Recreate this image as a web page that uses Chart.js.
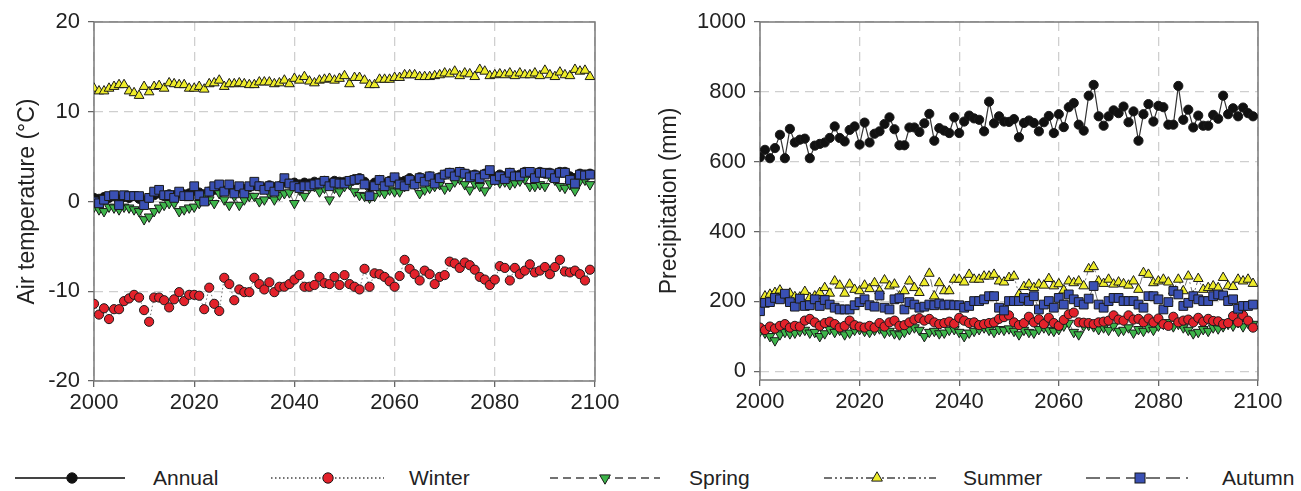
<!DOCTYPE html>
<html>
<head>
<meta charset="utf-8">
<script src="https://cdn.jsdelivr.net/npm/chart.js@4.4.1/dist/chart.umd.min.js"></script>
<style>
  html, body { margin: 0; padding: 0; background: #fff; }
  body { width: 1301px; height: 491px; position: relative; overflow: hidden; font-family: 'Liberation Sans', Arial, sans-serif; }
  .box { position: absolute; top: 0; height: 430px; }
  #legend { position: absolute; left: 0; top: 460px; }
</style>
</head>
<body>
<div class="box" style="left:0;width:630px"><canvas id="temp"></canvas></div>
<div class="box" style="left:640px;width:660px"><canvas id="precip"></canvas></div>
<svg id="legend" width="1301" height="36" xmlns="http://www.w3.org/2000/svg"></svg>
<script>
// years 2000..2099, one point per year
const years = Array.from({ length: 100 }, (_, i) => 2000 + i);
const xTicks = [2000, 2020, 2040, 2060, 2080, 2100];
const tempTicks = [-20, -10, 0, 10, 20];
const precipTicks = [0, 200, 400, 600, 800, 1000];

// Air temperature (°C)
const tempAnnual = [
  0.4, 0.3, 0.5, 0.4, 0.6, 0.2, 0.5, 0.4, 0.6, 0.3,
  0.1, 0.4, 0.7, 0.9, 0.6, 0.8, 0.7, 0.9, 0.8, 0.9,
  1.2, 1.0, 0.8, 1.1, 1.3, 1.4, 1.2, 1.5, 1.3, 1.5,
  1.4, 1.6, 1.8, 1.7, 1.5, 1.8, 1.6, 1.7, 2.2, 2.0,
  2.1, 1.9, 2.1, 2.0, 2.2, 2.1, 2.3, 2.0, 2.3, 2.2,
  2.2, 2.3, 2.5, 2.6, 2.2, 1.6, 2.1, 2.4, 2.0, 2.3,
  2.6, 2.2, 2.3, 2.6, 2.3, 2.7, 2.5, 2.8, 2.5, 2.7,
  3.0, 3.2, 3.0, 3.3, 3.1, 2.9, 3.0, 2.8, 3.1, 3.3,
  2.7, 3.0, 2.8, 3.2, 2.9, 3.0, 3.3, 3.2, 2.8, 3.3,
  3.1, 3.2, 2.9, 3.3, 3.3, 2.8, 2.6, 3.1, 3.0, 3.1,
];
const tempWinter = [
  -11.4, -12.6, -11.9, -13.1, -12.0, -12.0, -11.1, -10.8, -10.4, -10.7,
  -12.1, -13.4, -10.7, -10.7, -11.0, -11.8, -10.9, -10.1, -11.1, -10.4,
  -10.4, -10.5, -12.0, -9.6, -11.4, -12.2, -8.5, -9.2, -11.0, -9.8,
  -10.1, -10.1, -8.5, -9.2, -9.8, -9.0, -10.1, -9.5, -9.5, -9.2,
  -8.7, -8.2, -9.5, -9.5, -9.3, -8.4, -9.1, -9.2, -8.4, -9.3,
  -8.2, -9.2, -9.5, -9.8, -7.5, -9.5, -8.0, -8.1, -8.4, -8.9,
  -9.5, -8.3, -6.5, -7.5, -8.1, -8.8, -7.7, -8.1, -9.2, -8.4,
  -8.2, -6.7, -6.9, -7.4, -6.8, -7.1, -7.6, -8.4, -8.7, -9.3,
  -8.7, -7.2, -7.4, -8.8, -7.4, -8.1, -7.7, -7.0, -7.9, -7.7,
  -7.3, -8.1, -7.3, -6.5, -7.8, -7.9, -7.7, -8.1, -8.8, -7.6,
];
const tempSpring = [
  -0.6, -0.9, -1.1, -0.6, -0.7, -0.9, -0.6, -0.7, -0.9, -1.1,
  -2.0, -1.7, -1.1, -0.7, -0.4, -0.2, -0.2, -1.1, -0.9, -0.7,
  -0.6, -0.2, 0.6, 0.2, -0.2, 0.9, 0.2, -0.4, 0.6, -0.4,
  0.2, 0.6, 0.6, 0.0, 0.2, 0.9, 0.2, 0.7, 0.9, 1.0,
  -0.2, 1.3, 0.6, 1.5, 1.7, 1.1, 1.5, 0.2, 1.5, 1.1,
  1.7, 1.9, 1.1, 0.7, 0.6, 0.4, 0.6, 1.1, 0.9, 1.3,
  1.1, 1.1, 1.7, 2.2, 1.9, 0.9, 1.3, 1.5, 1.7, 1.9,
  1.4, 1.7, 2.2, 2.5, 1.9, 1.3, 2.0, 1.7, 1.2, 2.0,
  2.4, 2.1, 2.2, 1.9, 2.1, 2.3, 2.5, 1.7, 1.7, 1.9,
  1.7, 2.8, 2.4, 1.7, 1.5, 1.9, 1.2, 2.3, 2.4, 1.9,
];
const tempSummer = [
  12.6, 12.3, 12.3, 12.6, 12.8, 13.0, 13.0, 12.3, 12.1, 11.8,
  12.8, 12.2, 12.8, 12.9, 12.6, 13.2, 13.1, 13.0, 13.0, 12.6,
  12.6, 12.8, 12.5, 13.1, 13.2, 13.5, 12.8, 13.1, 13.1, 13.2,
  13.1, 13.0, 13.0, 13.3, 13.3, 13.3, 13.1, 13.2, 13.5, 13.1,
  13.7, 13.5, 13.9, 13.4, 13.2, 13.5, 13.6, 13.7, 13.5, 13.7,
  14.0, 13.1, 13.8, 13.8, 13.5, 13.0, 13.0, 13.6, 13.6, 13.6,
  13.8, 13.8, 14.1, 14.1, 14.1, 13.9, 13.9, 13.9, 14.0, 14.1,
  14.3, 14.2, 14.5, 14.0, 14.3, 14.2, 13.9, 14.7, 14.5, 14.0,
  14.1, 14.2, 14.1, 14.3, 14.0, 14.3, 14.1, 14.1, 14.3, 14.0,
  14.6, 14.1, 13.9, 14.4, 14.1, 14.0, 14.7, 14.5, 14.6, 13.9,
];
const tempAutumn = [
  0.0, -0.2, 0.2, 0.6, 0.7, -0.4, 0.7, 0.6, 0.6, 0.6,
  -0.4, 0.4, 1.1, 1.3, 0.7, 0.7, 0.4, 1.1, 0.6, 0.6,
  1.7, 0.7, 0.0, 1.1, 1.7, 1.9, 1.1, 1.9, 0.9, 1.7,
  0.9, 1.7, 2.2, 1.7, 1.3, 1.7, 1.1, 1.7, 2.6, 2.0,
  1.7, 1.5, 1.7, 1.7, 1.9, 2.0, 2.3, 1.7, 2.1, 2.0,
  2.0, 2.3, 2.4, 2.5, 1.9, 0.6, 1.7, 2.4, 1.7, 2.2,
  2.7, 1.9, 1.7, 2.4, 1.9, 2.6, 2.2, 2.8, 2.0, 2.6,
  3.0, 3.2, 2.8, 3.3, 3.1, 2.7, 2.9, 2.6, 3.0, 3.5,
  2.4, 2.8, 2.5, 3.2, 2.8, 2.8, 3.2, 3.3, 2.6, 3.2,
  3.2, 3.1, 2.6, 3.2, 3.2, 2.4, 2.0, 3.0, 2.9, 3.0,
];

// Precipitation (mm)
const precipAnnual = [
  613, 634, 610, 639, 677, 610, 694, 655, 663, 666,
  610, 646, 651, 655, 668, 701, 668, 658, 691, 701,
  649, 712, 655, 680, 687, 708, 727, 693, 647, 647,
  698, 698, 685, 710, 737, 660, 696, 689, 682, 727,
  682, 715, 732, 724, 720, 687, 772, 710, 730, 715,
  714, 722, 670, 711, 718, 711, 687, 713, 731, 682,
  736, 699, 756, 768, 706, 689, 789, 820, 730, 703,
  730, 747, 739, 758, 713, 744, 660, 736, 765, 715,
  760, 756, 706, 706, 817, 720, 749, 698, 732, 703,
  703, 734, 723, 789, 736, 753, 730, 755, 739, 730,
];
const precipWinter = [
  125, 118, 128, 122, 130, 135, 125, 130, 128, 145,
  150, 140, 130, 138, 142, 135, 125, 130, 145, 132,
  128, 125, 130, 125, 138, 128, 140, 145, 130, 132,
  140, 148, 152, 145, 150, 140, 135, 138, 142, 136,
  153, 145, 138, 140, 132, 135, 138, 140, 150, 155,
  160, 140, 132, 138, 156, 140, 149, 135, 153, 138,
  130, 147, 163, 168, 140, 139, 138, 135, 140, 142,
  145, 160, 148, 145, 160, 148, 150, 140, 151, 140,
  151, 135, 130, 156, 140, 145, 148, 140, 153, 142,
  150, 144, 143, 135, 138, 158, 140, 160, 145, 125,
];
const precipSpring = [
  115, 110, 100, 88, 105, 112, 108, 110, 115, 118,
  110, 112, 100, 108, 120, 112, 118, 105, 110, 118,
  120, 115, 112, 118, 122, 110, 115, 108, 105, 112,
  120, 125, 118, 100, 112, 115, 108, 110, 118, 120,
  112, 100, 110, 115, 120, 125, 118, 112, 120, 118,
  122, 115, 105, 118, 112, 110, 120, 125, 118, 115,
  120, 130, 138, 112, 105, 130, 132, 128, 120, 125,
  118, 130, 115, 118, 125, 110, 120, 115, 125, 118,
  130, 135, 140, 128, 135, 125, 118, 108, 112, 120,
  115, 125, 122, 128, 135, 130, 140, 128, 138, 135,
];
const precipSummer = [
  192, 215, 220, 225, 232, 215, 223, 213, 212, 228,
  210, 215, 225, 239, 223, 258, 246, 223, 249, 234,
  230, 246, 236, 253, 230, 261, 244, 249, 215, 230,
  258, 239, 225, 253, 280, 215, 253, 230, 230, 263,
  263, 255, 277, 263, 263, 272, 272, 277, 258, 255,
  268, 272, 220, 242, 249, 239, 249, 246, 265, 244,
  250, 232, 258, 253, 258, 244, 293, 299, 258, 251,
  263, 249, 255, 250, 246, 258, 234, 282, 277, 253,
  258, 263, 255, 230, 263, 230, 272, 215, 265, 234,
  239, 244, 239, 268, 244, 242, 263, 258, 263, 251,
];
const precipAutumn = [
  172, 196, 198, 210, 206, 222, 198, 185, 208, 187,
  189, 206, 187, 204, 191, 182, 177, 177, 177, 189,
  198, 206, 189, 185, 217, 182, 177, 206, 209, 177,
  198, 191, 182, 185, 191, 189, 194, 189, 191, 189,
  189, 182, 187, 201, 201, 206, 215, 215, 182, 174,
  201, 201, 201, 210, 201, 215, 177, 191, 201, 182,
  210, 191, 220, 206, 198, 191, 208, 244, 191, 182,
  201, 210, 210, 201, 201, 201, 191, 182, 215, 215,
  206, 177, 198, 230, 220, 187, 196, 215, 206, 201,
  201, 215, 220, 217, 201, 206, 179, 187, 187, 191,
];

const FONT = "'Liberation Sans', Arial, sans-serif";
Chart.defaults.font.family = FONT;
Chart.defaults.color = '#222';

// Series look: marker, line dash, draw order (lower = on top)
const seriesStyle = [
  { name: 'Annual', color: '#111111', point: 'circle',   rot: 0,   radius: 4.6, dash: [],              order: 5 },
  { name: 'Winter', color: '#e3222b', point: 'circle',   rot: 0,   radius: 4.6, dash: [1.5, 2.5],      order: 3 },
  { name: 'Spring', color: '#3db54a', point: 'triangle', rot: 180, radius: 5.6, dash: [8, 5],          order: 4 },
  { name: 'Summer', color: '#eeec2a', point: 'triangle', rot: 0,   radius: 5.6, dash: [8, 3, 2, 3, 2, 3], order: 2 },
  { name: 'Autumn', color: '#3a50b4', point: 'rect',     rot: 0,   radius: 6.2, dash: [14, 6],         order: 1 },
];

function makeDatasets(seriesValues) {
  return seriesValues.map((values, i) => {
    const s = seriesStyle[i];
    return {
      label: s.name,
      data: values.map((v, k) => ({ x: years[k], y: v })),
      borderColor: i === 0 ? '#333' : '#666',
      borderWidth: i === 0 ? 1.2 : 0.9,
      borderDash: s.dash,
      pointStyle: s.point,
      pointRotation: s.rot,
      pointRadius: s.radius,
      pointBackgroundColor: s.color,
      pointBorderColor: '#1a1a1a',
      pointBorderWidth: 1,
      tension: 0,
      order: s.order,
    };
  });
}

// solid grey box round the plot area
const framePlugin = {
  id: 'frame',
  beforeDatasetsDraw(chart) {
    const { ctx, chartArea: a } = chart;
    ctx.save();
    ctx.strokeStyle = '#7a7a7a';
    ctx.lineWidth = 1.5;
    ctx.setLineDash([]);
    ctx.strokeRect(a.left, a.top, a.right - a.left, a.bottom - a.top);
    ctx.restore();
  },
};

function gridOpts() {
  return {
    color: '#cfcfcf',
    lineWidth: 1.3,
    tickLength: 6,
    tickColor: '#666',
    tickWidth: 1.3,
    tickBorderDash: [1, 0],
  };
}

function makeChart(id, datasets, cfg) {
  const canvas = document.getElementById(id);
  canvas.width = cfg.width;
  canvas.height = cfg.height;
  return new Chart(canvas.getContext('2d'), {
    type: 'line',
    data: { datasets },
    options: {
      responsive: false,
      animation: false,
      events: [],
      layout: { padding: { top: 22, right: cfg.padRight, left: 0, bottom: 0 } },
      plugins: { legend: { display: false }, tooltip: { enabled: false } },
      scales: {
        x: {
          type: 'linear',
          min: 2000,
          max: 2100,
          afterBuildTicks: axis => { axis.ticks = xTicks.map(v => ({ value: v })); },
          afterFit: s => { s.height = cfg.xHeight; },
          grid: gridOpts(),
          border: { display: false, dash: [9, 6] },
          ticks: { font: { size: 22 }, padding: 3, maxRotation: 0, color: '#222', callback: v => String(v) },
        },
        y: {
          min: cfg.yMin,
          max: cfg.yMax,
          afterBuildTicks: axis => { axis.ticks = cfg.yTicks.map(v => ({ value: v })); },
          afterFit: s => { s.width = cfg.yWidth; },
          grid: gridOpts(),
          border: { display: false, dash: [9, 6] },
          ticks: { font: { size: 22 }, padding: 8, color: '#222', callback: v => String(v) },
          title: {
            display: true,
            text: cfg.title,
            font: { size: 23 },
            color: '#222',
            padding: { top: cfg.titlePad, bottom: 0 },
          },
        },
      },
    },
    plugins: [framePlugin],
  });
}

makeChart('temp', makeDatasets([tempAnnual, tempWinter, tempSpring, tempSummer, tempAutumn]), {
  width: 630, height: 430, padRight: 35, xHeight: 49, yWidth: 94,
  yMin: -20, yMax: 20, yTicks: tempTicks, title: 'Air temperature (°C)', titlePad: 14,
});

makeChart('precip', makeDatasets([precipAnnual, precipWinter, precipSpring, precipSummer, precipAutumn]), {
  width: 660, height: 430, padRight: 42, xHeight: 50, yWidth: 120,
  yMin: -25, yMax: 1000, yTicks: precipTicks, title: 'Precipitation (mm)', titlePad: 16,
});

// shared legend along the bottom
const legendPos = [
  { x1: 15, x2: 125, mx: 72, tx: 153 },
  { x1: 271, x2: 384, mx: 328, tx: 409 },
  { x1: 550, x2: 660, mx: 605, tx: 689 },
  { x1: 824, x2: 936, mx: 877, tx: 963 },
  { x1: 1086, x2: 1188, mx: 1140, tx: 1222 },
];
const svg = document.getElementById('legend');
const NS = 'http://www.w3.org/2000/svg';
const cy = 18;
function el(tag, attrs) {
  const e = document.createElementNS(NS, tag);
  Object.entries(attrs).forEach(([k, v]) => e.setAttribute(k, v));
  svg.appendChild(e);
  return e;
}
seriesStyle.forEach((s, i) => {
  const p = legendPos[i];
  el('line', {
    x1: p.x1, y1: cy, x2: p.x2, y2: cy,
    stroke: '#444', 'stroke-width': i === 0 ? 1.8 : 1.4,
    'stroke-dasharray': s.dash.length ? s.dash.join(' ') : 'none',
  });
  const common = { fill: s.color, stroke: '#1a1a1a', 'stroke-width': 1 };
  if (s.point === 'circle') {
    el('circle', { cx: p.mx, cy, r: 5.2, ...common });
  } else if (s.point === 'rect') {
    el('rect', { x: p.mx - 5, y: cy - 5, width: 10, height: 10, ...common });
  } else {
    const r = 6.2, dir = s.rot ? 1 : -1;
    const pts = [
      [p.mx, cy + dir * r],
      [p.mx - r * 0.866, cy - dir * r * 0.5],
      [p.mx + r * 0.866, cy - dir * r * 0.5],
    ].map(q => q.join(',')).join(' ');
    el('polygon', { points: pts, ...common });
  }
  const t = el('text', { x: p.tx, y: cy + 7, 'font-family': FONT, 'font-size': 21, fill: '#222' });
  t.textContent = s.name;
});
</script>
</body>
</html>
